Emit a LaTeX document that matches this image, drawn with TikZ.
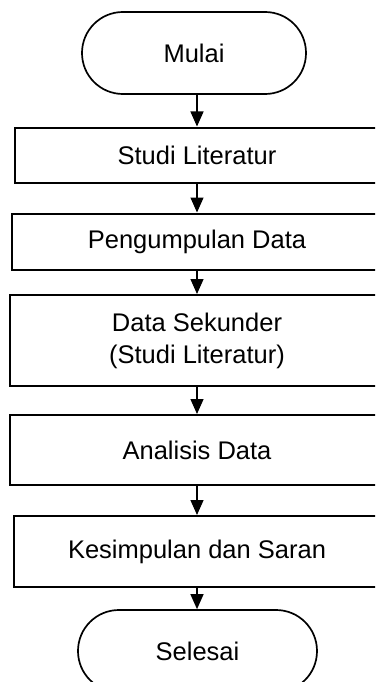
\documentclass[tikz,border=0pt]{standalone}
\usepackage{fontspec}
\setmainfont{Liberation Sans}
\usetikzlibrary{arrows.meta}
\begin{document}
\begin{tikzpicture}[x=1pt,y=-1pt,
  lbl/.style={font=\fontsize{25.5}{32}\selectfont},
  proc/.style={draw, line width=2pt, rectangle, inner sep=0pt, align=center, lbl},
  term/.style={draw, line width=1.7pt, rectangle, rounded corners=40.9pt, inner sep=0pt, minimum height=82pt, lbl},
  arr/.style={line width=1.3pt, -{Triangle[width=13pt,length=15pt]}}]
\useasboundingbox (0,0) rectangle (375,682);
\clip (0,0) rectangle (375,682);
\node[term, minimum width=224pt] (mulai) at (194,53) {Mulai};
\node[proc, minimum width=364pt, minimum height=55pt] (studi) at (197,155) {Studi Literatur};
\node[proc, minimum width=370pt, minimum height=56pt] (kumpul) at (197,241.5) {Pengumpulan Data};
\node[proc, minimum width=374pt, minimum height=91pt] (sekunder) at (197,340.5) {Data Sekunder\\(Studi Literatur)};
\node[proc, minimum width=374pt, minimum height=70pt] (analisis) at (197,450) {Analisis Data};
\node[proc, minimum width=366pt, minimum height=71pt] (simpul) at (197,551.5) {Kesimpulan dan Saran};
\node[term, minimum width=239pt] (selesai) at (197.5,651) {Selesai};
\draw[arr] (studi.north |- mulai.south) -- (studi.north);
\draw[arr] (studi.south) -- (kumpul.north);
\draw[arr] (kumpul.south) -- (sekunder.north);
\draw[arr] (sekunder.south) -- (analisis.north);
\draw[arr] (analisis.south) -- (simpul.north);
\draw[arr] (simpul.south) -- (selesai.north -| simpul.south);
\end{tikzpicture}
\end{document}
